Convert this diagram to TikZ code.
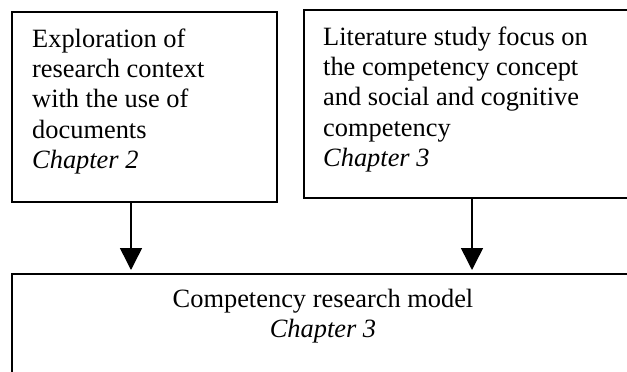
\documentclass[tikz,border=0pt]{standalone}
\usepackage{fontspec}
\setmainfont{Liberation Serif}
\usetikzlibrary{arrows.meta}
\begin{document}
\begin{tikzpicture}[x=1pt,y=1pt,
  frame/.style={draw=black, line width=1.6pt, rectangle, inner sep=0pt, anchor=north west},
  label/.style={inner sep=0pt, font=\fontsize{26.4}{30.4}\selectfont},
  flow/.style={line width=1.5pt, -{Triangle[length=22pt,width=22pt]}, shorten >=3pt}]
  \useasboundingbox (0,0) rectangle (627,-372);
  \clip (0,0) rectangle (627,-372);
  \fill[white] (0,0) rectangle (627,-372);

  % three boxes; the right-hand and lower ones run past the page edge
  \node[frame, minimum width=265pt, minimum height=190pt] (left) at (11,-11) {};
  \node[frame, minimum width=340pt, minimum height=188pt] (right) at (303,-9) {};
  \node[frame, minimum width=640pt, minimum height=120pt] (model) at (11,-273) {};

  % box texts (base anchor sits on the last line)
  \node[label, align=left, anchor=base west] (lefttext) at (32,-168.6)
    {Exploration of\\research context\\with the use of\\documents\\\textit{Chapter 2}};
  \node[label, align=left, anchor=base west] (righttext) at (323,-166.6)
    {Literature study focus on\\the competency concept\\and social and cognitive\\competency\\\textit{Chapter 3}};
  \node[label, align=center, anchor=base] (modeltext) at (323,-337.6)
    {Competency research model\\\textit{Chapter 3}};

  % arrows into the model box
  \coordinate (a1) at (131,0);
  \coordinate (a2) at (472,0);
  \draw[flow] (left.south -| a1) -- (model.north -| a1);
  \draw[flow] (right.south -| a2) -- (model.north -| a2);
\end{tikzpicture}
\end{document}
